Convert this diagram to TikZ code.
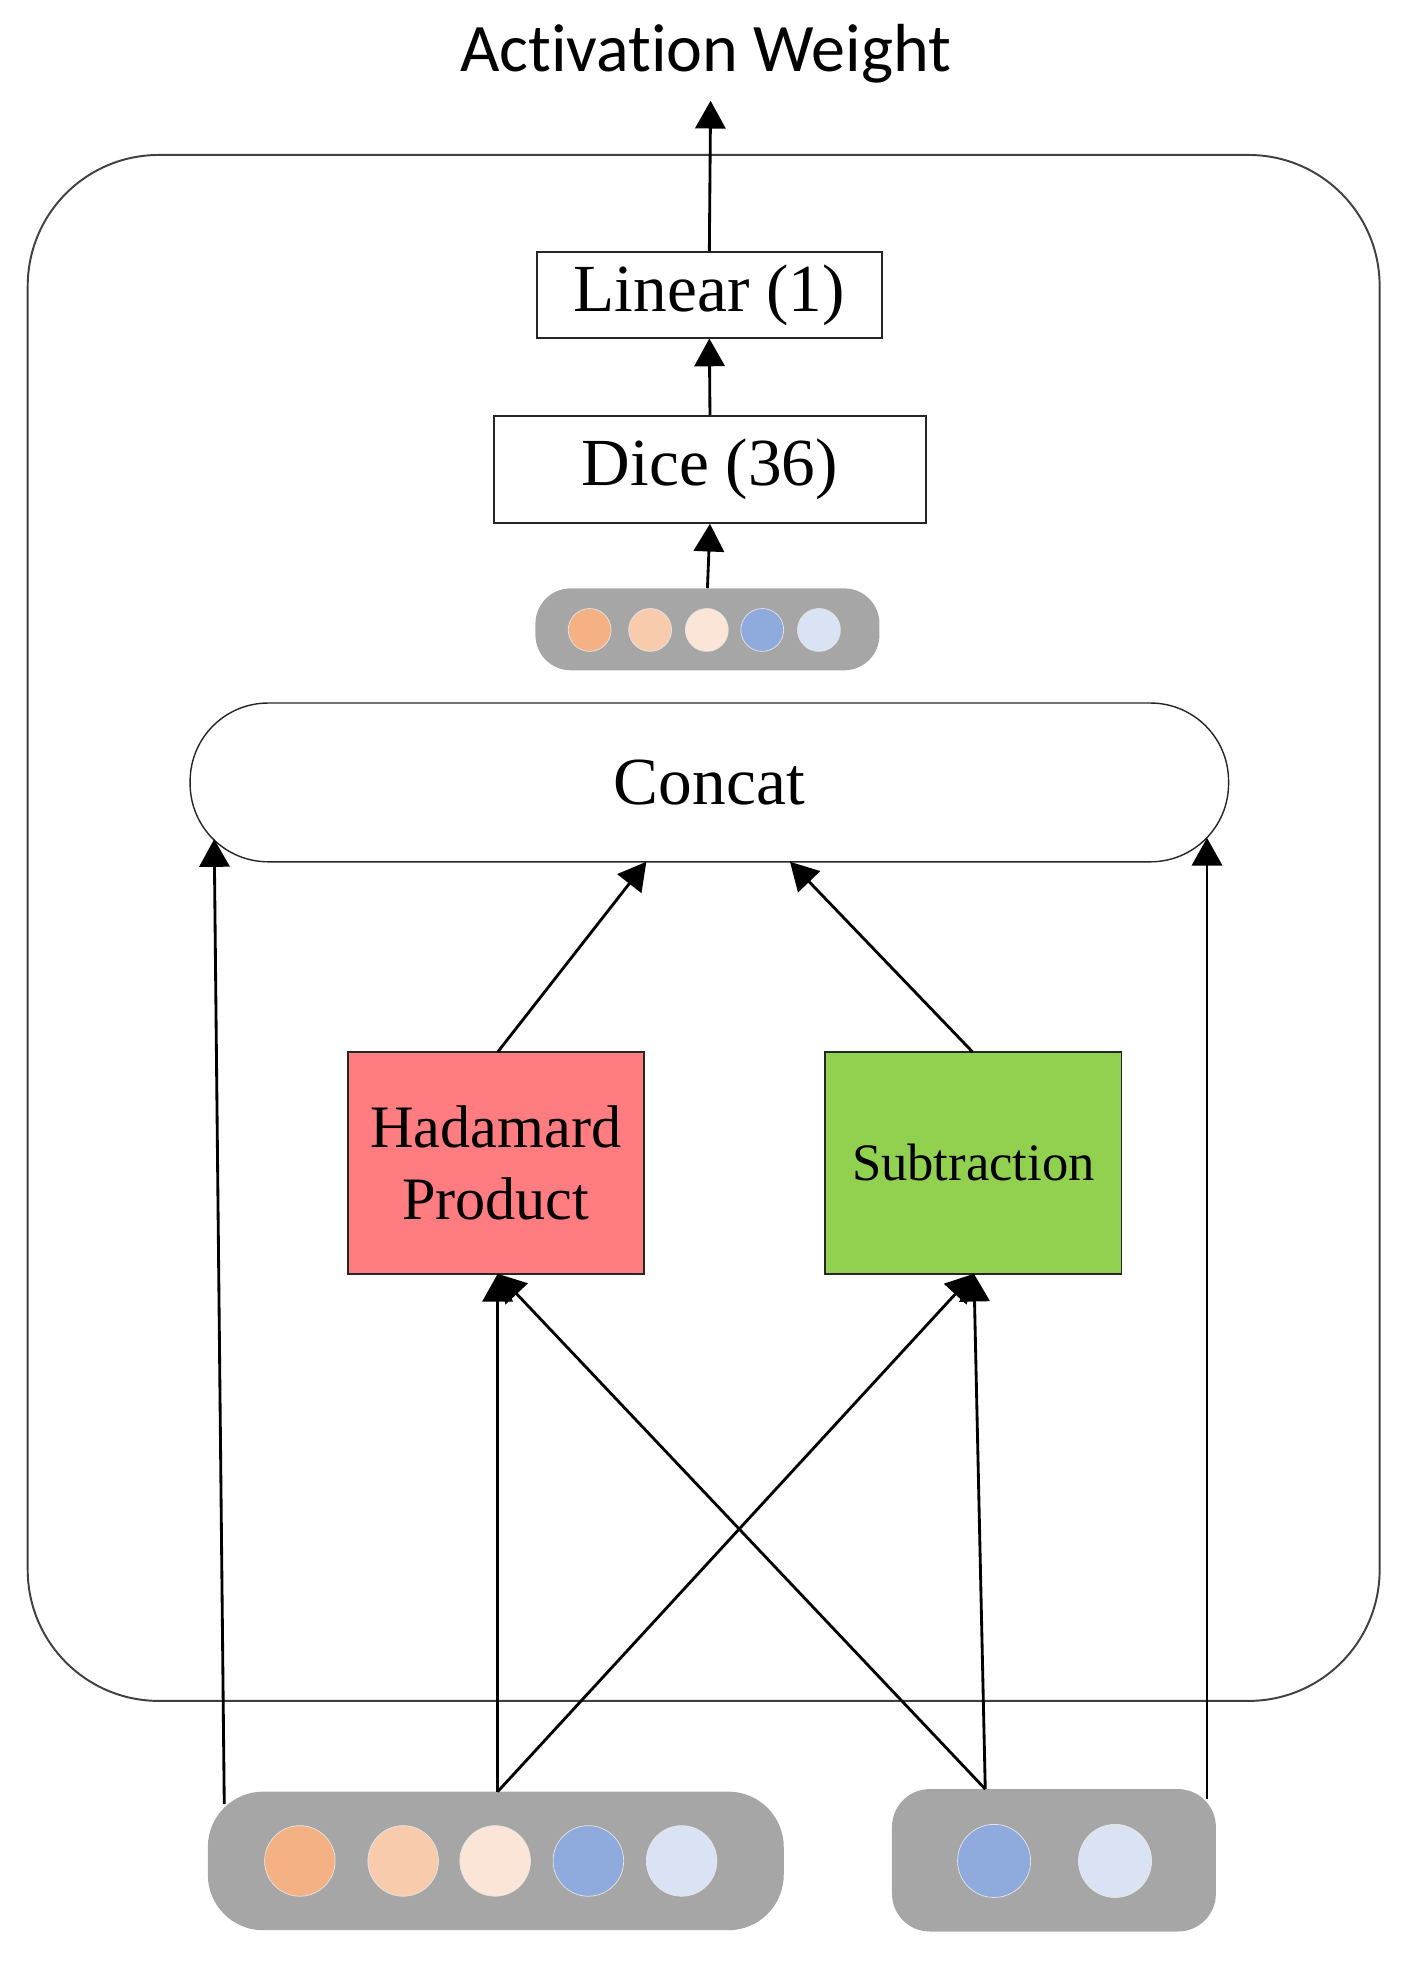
\documentclass[tikz,border=0pt]{standalone}
\usepackage{fontspec}
\setmainfont{Liberation Serif}
\newfontfamily\calfont[Ligatures={NoCommon,NoContextual},RawFeature={-liga;-clig}]{Carlito}
\usetikzlibrary{arrows.meta}
\definecolor{pillgray}{HTML}{A6A6A6}
\definecolor{cA}{HTML}{F4B183}
\definecolor{cB}{HTML}{F8CBAD}
\definecolor{cC}{HTML}{FBE5D6}
\definecolor{cD}{HTML}{8FAADC}
\definecolor{cE}{HTML}{DAE3F3}
\definecolor{hadred}{HTML}{FF7C80}
\definecolor{subgreen}{HTML}{92D050}
\definecolor{framegray}{HTML}{404040}
\begin{document}
\begin{tikzpicture}[x=0.025cm,y=-0.025cm,
  conn/.style={line width=1.6pt,-{Triangle[length=0.55cm,width=0.6cm]}},
  plainbox/.style={draw=black!85,line width=1pt,inner sep=0pt,font=\fontsize{38}{40}\selectfont},
  opbox/.style={draw=black!85,line width=1pt,inner sep=0pt,minimum width=5.875cm,minimum height=4.4cm,align=center},
  pill/.style={fill=pillgray,inner sep=0pt},
  dotS/.style={circle,inner sep=0pt,minimum size=0.85cm,draw=white!80!gray,line width=0.4pt},
  dotL/.style={circle,inner sep=0pt,minimum size=1.4cm,draw=white!80!gray,line width=0.4pt}]
\useasboundingbox (0,0) rectangle (1114,1562);

% outer frame
\draw[framegray,line width=1.1pt,rounded corners=2.6cm] (22,123) rectangle (1095,1350);

% title
\node[font=\calfont\fontsize{38.4}{40}\selectfont] (title) at (560,43) {Act\kern0pt ivat\kern0pt ion Weight};
\coordinate (titleTip) at (564,80);

% Linear and Dice
\node[plainbox,minimum width=6.85cm,minimum height=1.7cm] (linear) at (563,234) {Linear (1)};
\node[plainbox,minimum width=8.575cm,minimum height=2.125cm] (dice) at (563.5,372.5) {Dice (36)};

% small vector
\node[pill,rounded corners=0.7cm,minimum width=6.825cm,minimum height=1.625cm] (vec) at (561.5,499.5) {};
\node[dotS,fill=cA] (v1) at (468,500) {};
\node[dotS,fill=cB] (v2) at (516,500) {};
\node[dotS,fill=cC] (v3) at (561,500) {};
\node[dotS,fill=cD] (v4) at (605,500) {};
\node[dotS,fill=cE] (v5) at (650,500) {};

% concat
\node[draw=black!85,line width=0.8pt,rounded corners=1.55cm,minimum width=20.6cm,minimum height=3.15cm,inner sep=0pt,font=\fontsize{38}{40}\selectfont] (concat) at (563,621) {Concat};
\coordinate (cL) at (170,666);
\coordinate (cR) at (958,665);
\coordinate (cH) at (513,684);
\coordinate (cS) at (627,684);

% operations
\node[opbox,fill=hadred,font=\fontsize{34}{41}\selectfont] (had) at (393.5,923) {Hadamard\\Product};
\node[opbox,fill=subgreen,font=\fontsize{29.7}{34}\selectfont] (sub) at (772.5,923) {Subtraction};
\coordinate (hadTop) at (395,835);
\coordinate (subTop) at (772,835);
\coordinate (hadBot) at (395,1011);
\coordinate (subBot) at (773,1011);

% bottom vectors
\node[pill,rounded corners=1.1cm,minimum width=11.425cm,minimum height=2.75cm] (bl) at (393.5,1477) {};
\node[dotL,fill=cA] (b1) at (238,1477) {};
\node[dotL,fill=cB] (b2) at (320,1477) {};
\node[dotL,fill=cC] (b3) at (393,1477) {};
\node[dotL,fill=cD] (b4) at (467,1477) {};
\node[dotL,fill=cE] (b5) at (541,1477) {};
\node[pill,rounded corners=0.75cm,minimum width=6.425cm,minimum height=2.825cm] (br) at (836.5,1476.5) {};
\node[dotL,fill=cD,minimum size=1.45cm] (r1) at (789,1477) {};
\node[dotL,fill=cE,minimum size=1.45cm] (r2) at (885,1477) {};
\coordinate (blL) at (178,1432);
\coordinate (blM) at (395,1422);
\coordinate (brM) at (782,1420);
\coordinate (brR) at (958,1428);

% connectors
\draw[conn] (linear.north) -- (titleTip);
\draw[conn] (dice.north) -- (linear.south);
\draw[conn] (vec.north) -- (dice.south);
\draw[conn] (hadTop) -- (cH);
\draw[conn] (subTop) -- (cS);
\draw[conn] (blL) -- (cL);
\draw[conn] (brR) -- (cR);
\draw[conn] (blM) -- (hadBot);
\draw[conn] (blM) -- (subBot);
\draw[conn] (brM) -- (hadBot);
\draw[conn] (brM) -- (subBot);
\end{tikzpicture}
\end{document}
